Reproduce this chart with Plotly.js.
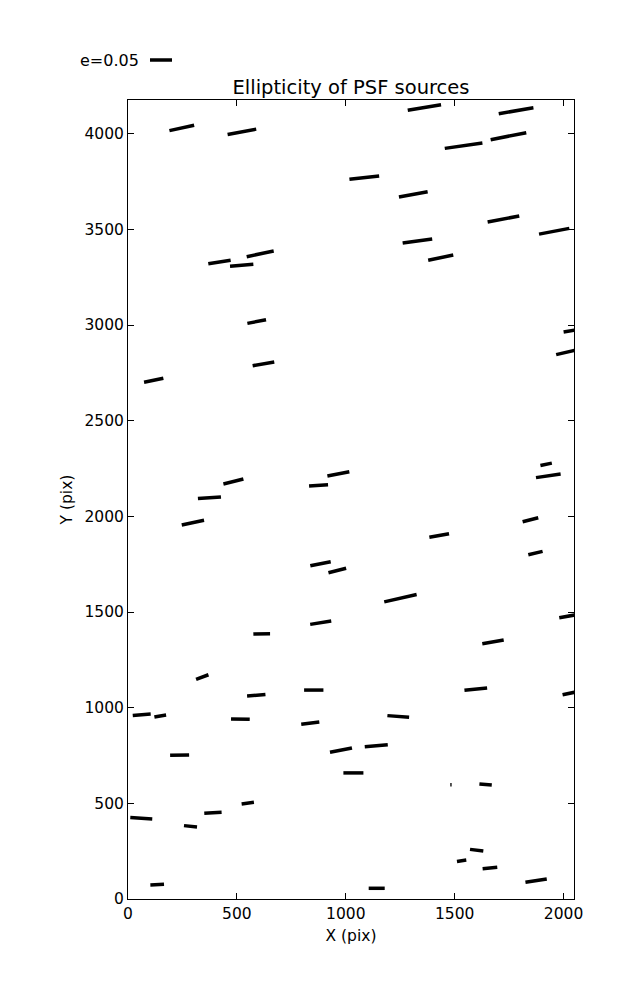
<!DOCTYPE html>
<html>
<head>
<meta charset="utf-8">
<script src="https://cdn.plot.ly/plotly-3.0.1.min.js"></script>
<style>html,body{margin:0;padding:0;background:#fff;}#chart{width:637px;height:1000px;}</style>
</head>
<body>
<div id="chart"></div>
<script>
// Source centres (pix), ellipticity e, position angle on the plot (deg)
const srcX = [247, 523, 420, 522, 607, 591, 622, 1361, 1085, 1310, 1329, 1436, 1782, 1541, 1747, 1724, 1957, 2045, 2030,
  118, 484, 374, 298, 966, 875, 1429, 884, 961, 1251, 885, 1920, 1930, 1848, 1871, 2030,
  614, 341, 589, 63, 148, 516, 237, 61, 287, 390, 550, 134,
  853, 837, 1241, 978, 1140, 1035, 1142, 1676, 1597, 2040, 1483, 1642, 1601, 1532, 1662, 1874];
const srcY = [4030, 4010, 3329, 3312, 3372, 3018, 2797, 4137, 3770, 3683, 3439, 3352, 4120, 3937, 3987, 3554, 3490, 2972, 2862,
  2711, 2182, 2097, 1967, 2222, 2162, 1900, 1752, 1717, 1572, 1444, 2272, 2212, 1982, 1808, 1480,
  1386, 1160, 1065, 963, 956, 940, 752, 422, 380, 451, 501, 75,
  1092, 919, 954, 778, 801, 659, 56, 1344, 1097, 1078, 597, 598, 255, 200, 162, 96];
const srcE = [0.0575, 0.0661, 0.0514, 0.0532, 0.0627, 0.0432, 0.0498, 0.0768, 0.0680, 0.0664, 0.0677, 0.0582, 0.0800, 0.0864, 0.0825, 0.0732, 0.0700, 0.0450, 0.0650,
  0.0448, 0.0468, 0.0525, 0.0518, 0.0509, 0.0432, 0.0455, 0.0473, 0.0414, 0.0755, 0.0484, 0.0264, 0.0566, 0.0366, 0.0334, 0.0500,
  0.0380, 0.0300, 0.0418, 0.0409, 0.0270, 0.0425, 0.0432, 0.0500, 0.0298, 0.0395, 0.0282, 0.0311,
  0.0439, 0.0414, 0.0495, 0.0509, 0.0525, 0.0455, 0.0364, 0.0493, 0.0518, 0.0450, 0.0030, 0.0282, 0.0305, 0.0214, 0.0334, 0.0491];
const srcTheta = [12.3, 10.5, 8.7, 4.9, 11.9, 10.9, 9.7, 9.5, 6.4, 10.5, 7.7, 11.9, 9.8, 8.0, 11.1, 10.7, 10.7, 10, 13,
  11.7, 14, 4.2, 11.9, 11, 4, 10.4, 11.1, 14, 12.7, 8.9, 11.4, 8.5, 14.4, 13.3, 10,
  1, 20.5, 4.2, 4.2, 9.7, -1, 1, -3.5, -5.8, 3.3, 7.8, 2.8,
  0, 7.3, -4.4, 11.1, 5, 0, 0, 9.8, 5.8, 12, 0, -4.6, -7.1, 8.1, 5.4, 8.9];
const keyE = 0.05;
const keyLabel = 'e=0.05';

const W = 637, H = 1000;
const M = {l: 128, r: 63, t: 100, b: 101};
const xRange = [0, 2048], yRange = [0, 4176];
const plotW = W - M.l - M.r, plotH = H - M.t - M.b;
const sx = plotW / (xRange[1] - xRange[0]);
const sy = plotH / (yRange[1] - yRange[0]);
const keyPx = 22; // pixel length of e = keyE

const wx = [], wy = [];
for (let i = 0; i < srcX.length; i++) {
  const L = srcE[i] / keyE * keyPx / 2;
  const t = srcTheta[i] * Math.PI / 180;
  const dx = L * Math.cos(t) / sx, dy = L * Math.sin(t) / sy;
  wx.push(srcX[i] - dx, srcX[i] + dx, null);
  wy.push(srcY[i] - dy, srcY[i] + dy, null);
}

const font = 'DejaVu Sans, sans-serif';
const axisCommon = {
  showgrid: false, zeroline: false, showline: true, linecolor: '#000', linewidth: 1,
  mirror: 'allticks', ticks: 'inside', ticklen: 6, tickcolor: '#000', tickwidth: 1,
  tickfont: {family: font, size: 15.5, color: '#000'}, dtick: 500, tick0: 0
};
const layout = {
  width: W, height: H, margin: M, showlegend: false,
  paper_bgcolor: '#fff', plot_bgcolor: '#fff',
  title: {text: 'Ellipticity of PSF sources', font: {family: font, size: 19.5, color: '#000'},
    x: 0.5 + (M.l - M.r) / 2 / W, xanchor: 'center', y: 1 - 87 / H, yanchor: 'middle', yref: 'container'},
  xaxis: Object.assign({}, axisCommon, {range: xRange,
    title: {text: 'X (pix)', font: {family: font, size: 15.5, color: '#000'}, standoff: 8}}),
  yaxis: Object.assign({}, axisCommon, {range: yRange,
    title: {text: 'Y (pix)', font: {family: font, size: 15.5, color: '#000'}, standoff: 8}}),
  annotations: [{text: keyLabel, xref: 'paper', yref: 'paper', x: (141 - M.l) / plotW, y: (H - M.b - 60) / plotH,
    xanchor: 'right', yanchor: 'middle', showarrow: false, font: {family: font, size: 16, color: '#000'}}],
  shapes: [{type: 'line', xref: 'paper', yref: 'paper',
    x0: (150 - M.l) / plotW, x1: (150 - M.l + keyE / keyE * keyPx) / plotW,
    y0: (H - M.b - 60) / plotH, y1: (H - M.b - 60) / plotH,
    line: {color: '#000', width: 3.5}}]
};
Plotly.newPlot('chart', [{
  type: 'scatter', mode: 'lines', x: wx, y: wy, connectgaps: false,
  line: {color: '#000', width: 3.5}, hoverinfo: 'skip'
}], layout, {staticPlot: true});
</script>
</body>
</html>
